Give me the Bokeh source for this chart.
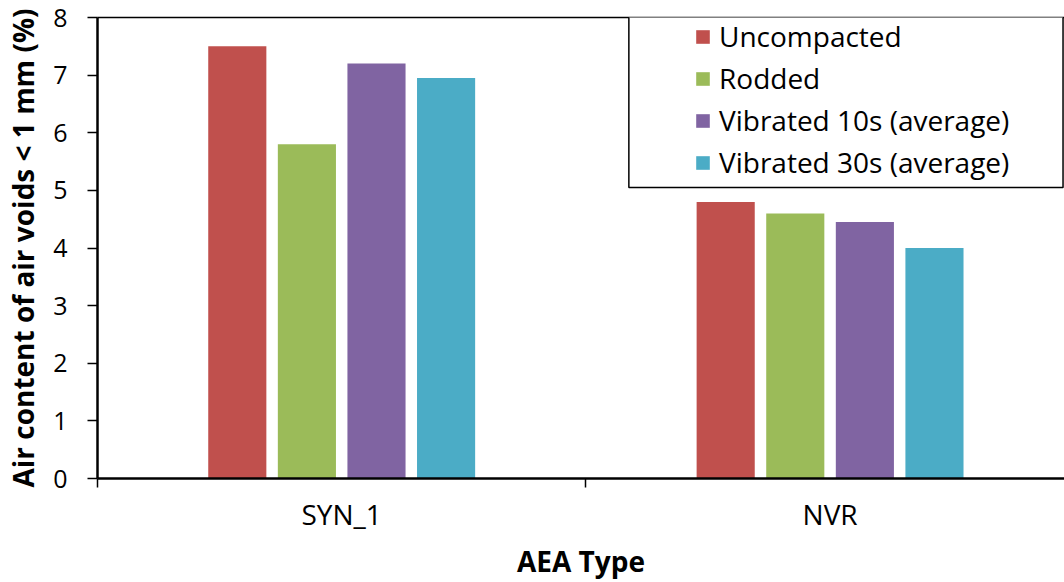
from bokeh.plotting import figure
from bokeh.models import (Range1d, FixedTicker, LinearAxis, Legend, LegendItem,
                          BoxAnnotation)
from bokeh.embed import file_html
from bokeh.resources import INLINE

# ---- data ----
categories = ["SYN_1", "NVR"]
series_names = ["Uncompacted", "Rodded", "Vibrated 10s (average)", "Vibrated 30s (average)"]
uncompacted = [7.5, 4.8]
rodded = [5.8, 4.6]
vibrated_10s = [7.2, 4.45]
vibrated_30s = [6.95, 4.0]
y_ticks = [0, 1, 2, 3, 4, 5, 6, 7, 8]
colors = ["#C0504D", "#9BBB59", "#8064A2", "#4BACC6"]

values = [uncompacted, rodded, vibrated_10s, vibrated_30s]

FONT = "Open Sans"
step = 0.1425
bar_w = 0.119
n = len(series_names)
offsets = [(j - (n - 1) / 2) * step for j in range(n)]
cat_pos = list(range(len(categories)))

p = figure(width=1064, height=582,
           x_range=Range1d(-0.5, 1.480), y_range=Range1d(0, 8),
           output_backend="svg", toolbar_location=None,
           min_border_left=97, min_border_top=17, min_border_right=0,
           min_border_bottom=104)
p.outline_line_color = None
p.xgrid.visible = False
p.ygrid.visible = False
p.background_fill_color = "white"
p.border_fill_color = "white"

renderers = []
for j in range(n):
    xs = [c + offsets[j] for c in cat_pos]
    r = p.vbar(x=xs, top=values[j], width=bar_w, bottom=0,
               fill_color=colors[j], line_color=None)
    renderers.append(r)

# x axis
xa = p.xaxis[0]
xa.ticker = FixedTicker(ticks=cat_pos,
                        minor_ticks=[c - 0.5 for c in cat_pos] + [cat_pos[-1] + 0.5])
xa.major_label_overrides = {c: name for c, name in zip(cat_pos, categories)}
xa.major_tick_out = 0
xa.major_tick_in = 0
xa.minor_tick_out = 9
xa.minor_tick_in = 0
xa.minor_tick_line_color = "black"
xa.minor_tick_line_width = 1.5
xa.axis_line_color = "black"
xa.axis_line_width = 2.5
xa.major_label_text_font = FONT
xa.major_label_text_font_size = "28px"
xa.major_label_text_color = "black"
xa.major_label_standoff = 7
xa.axis_label = "AEA Type"
xa.axis_label_text_font = FONT
xa.axis_label_text_font_size = "28px"
xa.axis_label_text_font_style = "bold"
xa.axis_label_text_color = "black"
xa.axis_label_standoff = 6

# y axis
ya = p.yaxis[0]
ya.ticker = FixedTicker(ticks=y_ticks)
ya.major_tick_out = 10
ya.major_tick_in = 0
ya.minor_tick_out = 0
ya.minor_tick_in = 0
ya.major_tick_line_color = "black"
ya.major_tick_line_width = 1.5
ya.axis_line_color = "black"
ya.axis_line_width = 2.5
ya.major_label_text_font = FONT
ya.major_label_text_font_size = "25px"
ya.major_label_text_color = "black"
ya.major_label_standoff = 20
ya.axis_label = "Air content of air voids < 1 mm (%)"
ya.axis_label_text_font = FONT
ya.axis_label_text_font_size = "28px"
ya.axis_label_text_font_style = "bold"
ya.axis_label_text_color = "black"
ya.axis_label_standoff = 8

# top border line
top = LinearAxis(ticker=FixedTicker(ticks=[]), major_tick_out=0, major_tick_in=0,
                 minor_tick_out=0, minor_tick_in=0, major_label_standoff=0,
                 axis_line_color="black", axis_line_width=1.5)
p.add_layout(top, "above")

# legend box
p.add_layout(BoxAnnotation(left=0.588, right=1.477, top=8.03, bottom=5.05,
                           fill_color="white", fill_alpha=1.0,
                           line_color="black", line_alpha=1.0, line_width=1.5))

legend = Legend(items=[LegendItem(label=s, renderers=[r]) for s, r in zip(series_names, renderers)],
                location=(597, 295), padding=0, margin=0, spacing=0,
                border_line_alpha=0, background_fill_alpha=0,
                glyph_width=17, glyph_height=17, label_standoff=8, label_height=42,
                label_text_font=FONT, label_text_font_size="28px",
                label_text_color="black")
p.add_layout(legend)

open("out.html", "w").write(file_html(p, INLINE))
